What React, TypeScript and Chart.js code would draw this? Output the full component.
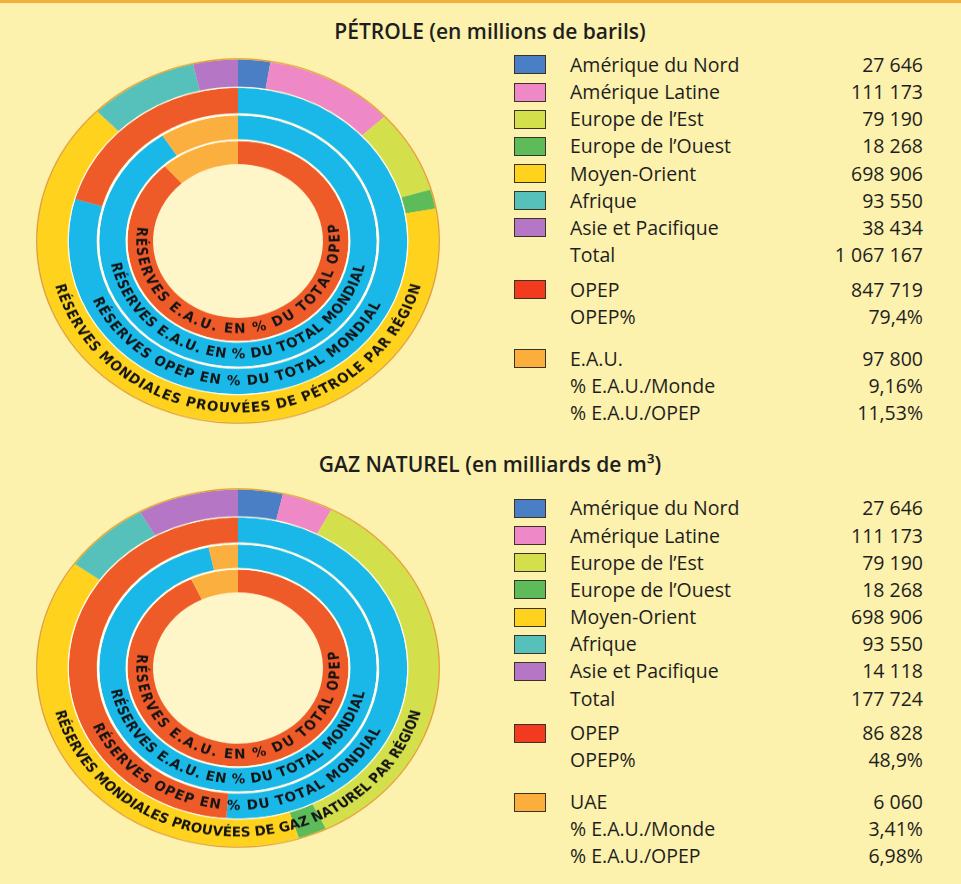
import React, { useEffect, useRef } from "react";
import { Chart, registerables } from "chart.js";

Chart.register(...registerables);

// ---------- DATA ----------
const regionLabels = [
  "Amérique du Nord",
  "Amérique Latine",
  "Europe de l’Est",
  "Europe de l’Ouest",
  "Moyen-Orient",
  "Afrique",
  "Asie et Pacifique",
];
const regionColors = ["#4A7FC6", "#EE88C6", "#D3E04C", "#5DBB5A", "#FFD21E", "#56C1BA", "#B576C6"];

// Pétrole : valeurs de la légende (millions de barils), utilisées aussi pour l'anneau extérieur
const oilRegionValues = [27646, 111173, 79190, 18268, 698906, 93550, 38434];
const oilRegionValueText = ["27 646", "111 173", "79 190", "18 268", "698 906", "93 550", "38 434"];
const oilTotalText = "1 067 167";
const oilOpecText = "847 719";
const oilOpecPctText = "79,4%";
const oilUaeText = "97 800";
const oilUaeWorldText = "9,16%";
const oilUaeOpecText = "11,53%";
// anneaux intérieurs (parts, en %)
const oilRing2 = [79.4, 20.6]; // bleu / rouge
const oilRing3 = [90.84, 9.16]; // bleu / orange (E.A.U.)
const oilRing4 = [88.47, 11.53]; // rouge / orange (E.A.U.)

// Gaz naturel : texte de la légende tel qu'imprimé
const gasRegionValueText = ["27 646", "111 173", "79 190", "18 268", "698 906", "93 550", "14 118"];
const gasTotalText = "177 724";
const gasOpecText = "86 828";
const gasOpecPctText = "48,9%";
const gasUaeText = "6 060";
const gasUaeWorldText = "3,41%";
const gasUaeOpecText = "6,98%";
// anneau extérieur du gaz : parts (%)
const gasRegionShares = [3.6, 4.1, 35.1, 2.3, 39.8, 7.0, 8.1];
const gasRing2 = [51.1, 48.9];
const gasRing3 = [96.59, 3.41];
const gasRing4 = [93.02, 6.98];

const oilRingTexts = [
  "RÉSERVES MONDIALES PROUVÉES DE PÉTROLE PAR RÉGION",
  "RÉSERVES OPEP EN % DU TOTAL MONDIAL",
  "RÉSERVES E.A.U. EN % DU TOTAL MONDIAL",
  "RÉSERVES E.A.U. EN % DU TOTAL OPEP",
];
const gasRingTexts = [
  "RÉSERVES MONDIALES PROUVÉES DE GAZ NATUREL PAR RÉGION",
  "RÉSERVES OPEP EN % DU TOTAL MONDIAL",
  "RÉSERVES E.A.U. EN % DU TOTAL MONDIAL",
  "RÉSERVES E.A.U. EN % DU TOTAL OPEP",
];

const oilTitle = "PÉTROLE (en millions de barils)";
const gasTitle = "GAZ NATUREL (en milliards de m³)";
const opecLabel = "OPEP";
const opecPctLabel = "OPEP%";
const totalLabel = "Total";
const uaeWorldLabel = "% E.A.U./Monde";
const uaeOpecLabel = "% E.A.U./OPEP";

// ---------- STYLE ----------
const BG = "#FCF1AD";
const RED = "#EE5A28";
const BLUE = "#19B8E8";
const ORANGE = "#FAAF3E";
const WHITE = "#FFFDF2";
const OUTLINE = "#E2A232";
const LEG_RED = "#F23A1E";
const LEG_ORANGE = "#FBAE3C";
const TEXT = "#1E1E1E";

const ringTextPlugin = {
  id: "ringText",
  afterDatasetsDraw(chart: any, _args: any, opts: any) {
    const items = (opts && opts.items) || [];
    const ctx = chart.ctx as CanvasRenderingContext2D;
    items.forEach((it: any) => {
      const meta = chart.getDatasetMeta(it.dataset);
      const arc = meta && meta.data && meta.data[0];
      if (!arc) return;
      const cx = arc.x;
      const cy = arc.y;
      const r = (arc.innerRadius + arc.outerRadius) / 2 + (it.dr || 0);
      ctx.save();
      ctx.font = opts.font;
      ctx.fillStyle = opts.color;
      ctx.textAlign = "center";
      ctx.textBaseline = "middle";
      const chars = Array.from(it.text as string);
      const widths = chars.map((c) => ctx.measureText(c).width);
      const total = widths.reduce((a, b) => a + b, 0);
      const start = (it.start * Math.PI) / 180;
      const end = (it.end * Math.PI) / 180;
      const L = r * (start - end);
      const gap = (L - total) / Math.max(chars.length - 1, 1);
      let s = 0;
      chars.forEach((c, k) => {
        const mid = s + widths[k] / 2;
        const th = start - mid / r;
        const x = cx + r * Math.sin(th);
        const y = cy - r * Math.cos(th);
        ctx.save();
        ctx.translate(x, y);
        ctx.rotate(th - Math.PI);
        ctx.fillText(c, 0, 0);
        ctx.restore();
        s += widths[k] + gap;
      });
      ctx.restore();
    });
  },
};

const holePlugin = {
  id: "holeFill",
  beforeDatasetsDraw(chart: any, _args: any, opts: any) {
    const n = chart.data.datasets.length;
    const meta = chart.getDatasetMeta(n - 1);
    const arc = meta && meta.data && meta.data[0];
    if (!arc) return;
    const ctx = chart.ctx as CanvasRenderingContext2D;
    ctx.save();
    ctx.fillStyle = opts.color;
    ctx.beginPath();
    ctx.arc(arc.x, arc.y, arc.innerRadius + 1, 0, Math.PI * 2);
    ctx.fill();
    ctx.restore();
  },
};

type RingProps = {
  outer: number[];
  ring2: number[];
  ring3: number[];
  ring4: number[];
  texts: string[];
  left: number;
  top: number;
  size: number;
  scaleY: number;
};

function Rings({ outer, ring2, ring3, ring4, texts, left, top, size, scaleY }: RingProps) {
  const ref = useRef<HTMLCanvasElement>(null);
  useEffect(() => {
    if (!ref.current) return;
    const ds = (data: number[], colors: string[], weight: number, labels?: string[]) => ({
      data,
      backgroundColor: colors,
      borderWidth: 0,
      weight,
      label: labels ? labels.join(",") : "",
    });
    const chart = new Chart(ref.current, {
      type: "doughnut",
      data: {
        labels: regionLabels,
        datasets: [
          ds([1], [OUTLINE], 1.5),
          ds(outer, regionColors, 30, regionLabels),
          ds([1], [WHITE], 1.2),
          ds(ring2, [BLUE, RED], 28),
          ds([1], [WHITE], 2.5),
          ds(ring3, [BLUE, ORANGE], 26.3),
          ds([1], [WHITE], 2),
          ds(ring4, [RED, ORANGE], 25.5),
        ] as any,
      },
      options: {
        responsive: false,
        animation: false,
        cutout: 85,
        rotation: 0,
        circumference: 360,
        events: [],
        layout: { padding: 0 },
        plugins: {
          legend: { display: false },
          tooltip: { enabled: false },
          ringText: {
            font: 'bold 15px "DejaVu Sans Condensed", "Liberation Sans Narrow", sans-serif',
            color: "#141414",
            items: [
              { dataset: 1, text: texts[0], start: 255, end: 105 },
              { dataset: 3, text: texts[1], start: 246, end: 116 },
              { dataset: 5, text: texts[2], start: 259, end: 102 },
              { dataset: 7, text: texts[3], start: 279, end: 79 },
            ],
          },
          holeFill: { color: "#FEF5C8" },
        } as any,
      },
      plugins: [holePlugin, ringTextPlugin],
    } as any);
    return () => chart.destroy();
  }, []);
  return (
    <canvas
      ref={ref}
      width={size}
      height={size}
      style={{
        position: "absolute",
        left,
        top,
        width: size,
        height: size,
        transform: `scaleY(${scaleY})`,
        transformOrigin: "50% 50%",
      }}
    />
  );
}

const rowOffsets = [65, 92.5, 119.5, 146.5, 174, 201, 228, 255.5, 290, 317, 359, 386, 413];

type LegendProps = {
  dy: number;
  values: string[];
  total: string;
  opec: string;
  opecPct: string;
  uaeLabel: string;
  uae: string;
  uaeWorld: string;
  uaeOpec: string;
};

function Legend({ dy, values, total, opec, opecPct, uaeLabel, uae, uaeWorld, uaeOpec }: LegendProps) {
  const rows: { color?: string; label: string; value: string }[] = [
    ...regionLabels.map((l, i) => ({ color: regionColors[i], label: l, value: values[i] })),
    { label: totalLabel, value: total },
    { color: LEG_RED, label: opecLabel, value: opec },
    { label: opecPctLabel, value: opecPct },
    { color: LEG_ORANGE, label: uaeLabel, value: uae },
    { label: uaeWorldLabel, value: uaeWorld },
    { label: uaeOpecLabel, value: uaeOpec },
  ];
  return (
    <>
      {rows.map((r, i) => {
        const c = rowOffsets[i] + dy;
        return (
          <React.Fragment key={i}>
            {r.color && (
              <div
                style={{
                  position: "absolute",
                  left: 514,
                  top: c - 10,
                  width: 30,
                  height: 17,
                  background: r.color,
                  border: "1.5px solid #3A3328",
                }}
              />
            )}
            <div
              style={{
                position: "absolute",
                left: 570,
                top: c - 10.5,
                height: 20,
                lineHeight: "19.5px",
                fontSize: 19.5,
                whiteSpace: "nowrap",
                color: TEXT,
              }}
            >
              {r.label}
            </div>
            <div
              style={{
                position: "absolute",
                left: 700,
                width: 223,
                top: c - 10.5,
                height: 20,
                lineHeight: "19.5px",
                fontSize: 19.5,
                textAlign: "right",
                whiteSpace: "nowrap",
                color: TEXT,
              }}
            >
              {r.value}
            </div>
          </React.Fragment>
        );
      })}
    </>
  );
}

export default function App() {
  useEffect(() => {
    document.body.style.margin = "0";
    document.body.style.background = BG;
  }, []);
  const titleStyle: React.CSSProperties = {
    position: "absolute",
    left: 290,
    width: 400,
    textAlign: "center",
    fontSize: 21,
    fontWeight: 600,
    lineHeight: "21px",
    color: TEXT,
    whiteSpace: "nowrap",
  };
  return (
    <div
      style={{
        position: "absolute",
        left: 0,
        top: 0,
        width: 961,
        height: 884,
        background: BG,
        overflow: "hidden",
        fontFamily: '"Open Sans", "Noto Sans", sans-serif',
      }}
    >
      <div style={{ position: "absolute", left: 0, top: 0, width: 961, height: 2.5, background: "#F2B03A" }} />
      <div style={{ ...titleStyle, top: 21 }}>{oilTitle}</div>
      <div style={{ ...titleStyle, top: 454 }}>{gasTitle}</div>

      <Rings
        outer={oilRegionValues}
        ring2={oilRing2}
        ring3={oilRing3}
        ring4={oilRing4}
        texts={oilRingTexts}
        left={35.5}
        top={39}
        size={404}
        scaleY={0.905}
      />
      <Rings
        outer={gasRegionShares}
        ring2={gasRing2}
        ring3={gasRing3}
        ring4={gasRing4}
        texts={gasRingTexts}
        left={35.5}
        top={466}
        size={404}
        scaleY={0.89}
      />

      <Legend
        dy={0}
        values={oilRegionValueText}
        total={oilTotalText}
        opec={oilOpecText}
        opecPct={oilOpecPctText}
        uaeLabel="E.A.U."
        uae={oilUaeText}
        uaeWorld={oilUaeWorldText}
        uaeOpec={oilUaeOpecText}
      />
      <Legend
        dy={443.5}
        values={gasRegionValueText}
        total={gasTotalText}
        opec={gasOpecText}
        opecPct={gasOpecPctText}
        uaeLabel="UAE"
        uae={gasUaeText}
        uaeWorld={gasUaeWorldText}
        uaeOpec={gasUaeOpecText}
      />
    </div>
  );
}
